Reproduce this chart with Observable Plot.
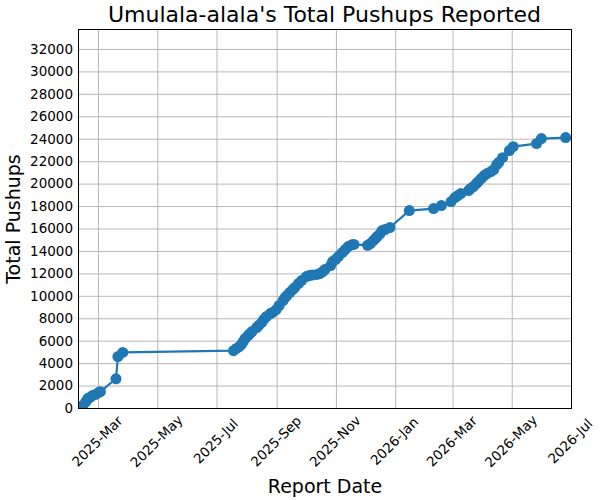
<!DOCTYPE html>
<html>
<head>
<meta charset="utf-8">
<script src="https://cdn.jsdelivr.net/npm/d3@7"></script>
<script src="https://cdn.jsdelivr.net/npm/@observablehq/plot@0.6"></script>
<style>
  body { margin: 0; background: #fff; font-family: "DejaVu Sans", sans-serif; }
  #wrap { width: 600px; }
  #title { height: 29px; line-height: 29px; margin-left: 78px; width: 493px; text-align: center; font-size: 22px; color: #000; white-space: nowrap; }
</style>
</head>
<body>
<div id="wrap">
  <div id="title">Umulala-alala's Total Pushups Reported</div>
  <div id="chart"></div>
</div>
<script>
const reportDates = [
  "2025-02-10","2025-02-13","2025-02-16","2025-02-18","2025-02-20","2025-02-23","2025-02-26","2025-03-01","2025-03-03",
  "2025-03-19","2025-03-21","2025-03-26",
  "2025-07-18","2025-07-21","2025-07-24","2025-07-26","2025-07-28","2025-07-30","2025-08-02","2025-08-04","2025-08-06",
  "2025-08-11","2025-08-13","2025-08-16","2025-08-18","2025-08-21","2025-08-25","2025-08-27","2025-08-31","2025-09-03",
  "2025-09-07","2025-09-09","2025-09-11","2025-09-14","2025-09-17","2025-09-19","2025-09-23","2025-09-26","2025-10-01",
  "2025-10-04","2025-10-07","2025-10-12","2025-10-15","2025-10-18","2025-10-20","2025-10-26","2025-10-28","2025-10-31",
  "2025-11-03","2025-11-07","2025-11-10","2025-11-13","2025-11-17","2025-11-19",
  "2025-12-03","2025-12-06","2025-12-09","2025-12-11","2025-12-13","2025-12-16","2025-12-18","2025-12-21","2025-12-26",
  "2026-01-15","2026-02-09","2026-02-17","2026-02-27","2026-03-03","2026-03-06","2026-03-09","2026-03-17","2026-03-19",
  "2026-03-22","2026-03-25","2026-03-27","2026-03-30","2026-04-02","2026-04-05","2026-04-09","2026-04-12","2026-04-15",
  "2026-04-17","2026-04-21","2026-04-28","2026-05-02","2026-05-26","2026-05-31","2026-06-25"
];
const totalPushups = [
  90,270,620,890,980,1160,1250,1420,1500,
  2650,4630,5000,
  5150,5350,5520,5700,5970,6240,6500,6680,6860,
  7220,7400,7660,7930,8200,8460,8550,8820,9180,
  9620,9890,10070,10340,10600,10780,11140,11400,11760,
  11850,11900,11950,12030,12200,12380,12740,13100,13280,
  13540,13900,14170,14430,14600,14620,
  14540,14700,14970,15150,15330,15590,15860,15950,16130,
  17640,17820,18090,18440,18800,18980,19160,19420,19600,
  19780,20050,20230,20490,20760,20940,21120,21300,21740,
  21920,22360,22990,23340,23610,24060,24150
];
const yTicks = d3.range(0, 32001, 2000);
const xTickDates = ["2025-03-01","2025-05-01","2025-07-01","2025-09-01","2025-11-01","2026-01-01","2026-03-01","2026-05-01","2026-07-01"];
const xTickLabels = ["2025-Mar","2025-May","2025-Jul","2025-Sep","2025-Nov","2026-Jan","2026-Mar","2026-May","2026-Jul"];

const parse = d3.utcParse("%Y-%m-%d");
const data = reportDates.map((d, i) => ({date: parse(d), total: totalPushups[i]}));
const xTicks = xTickDates.map(parse);
const xTickTable = xTicks.map((d, i) => ({date: d, label: xTickLabels[i]}));

const blue = "#1f77b4";
const gridColor = "#b0b0b0";

const chart = Plot.plot({
  width: 600,
  height: 471,
  marginTop: 0,
  marginLeft: 78,
  marginRight: 29,
  marginBottom: 92,
  style: {fontFamily: "DejaVu Sans, sans-serif", fontSize: "13.5px", color: "#000", background: "#fff"},
  x: {type: "utc", domain: [new Date(Date.UTC(2025, 1, 8, 10)), parse("2026-07-01")]},
  y: {domain: [0, 33780]},
  marks: [
    Plot.gridX(xTicks, {stroke: gridColor, strokeOpacity: 1, strokeWidth: 0.9}),
    Plot.gridY(yTicks, {stroke: gridColor, strokeOpacity: 1, strokeWidth: 0.9}),
    Plot.axisY(yTicks, {tickSize: 0, tickPadding: 5.5, tickFormat: d => String(d), label: null, fontSize: 13.5}),
    Plot.axisX(xTicks, {tickSize: 0, tickFormat: () => "", label: null}),
    Plot.text(xTickTable, {x: "date", text: "label", frameAnchor: "bottom", dy: 33, dx: -1, rotate: -45, textAnchor: "middle", lineAnchor: "middle", fontSize: 13.5, fill: "#000"}),
    Plot.line(data, {x: "date", y: "total", stroke: blue, strokeWidth: 2.2, clip: "frame"}),
    Plot.dot(data, {x: "date", y: "total", fill: blue, r: 5.5, stroke: "none", clip: "frame"}),
    Plot.frame({stroke: "#000", strokeWidth: 1}),
    Plot.text(["Total Pushups"], {frameAnchor: "left", dx: -65, rotate: -90, textAnchor: "middle", lineAnchor: "middle", fontSize: 19, fill: "#000"}),
    Plot.text(["Report Date"], {frameAnchor: "bottom", dy: 78, textAnchor: "middle", lineAnchor: "middle", fontSize: 19, fill: "#000"})
  ]
});
document.getElementById("chart").appendChild(chart);
</script>
</body>
</html>
